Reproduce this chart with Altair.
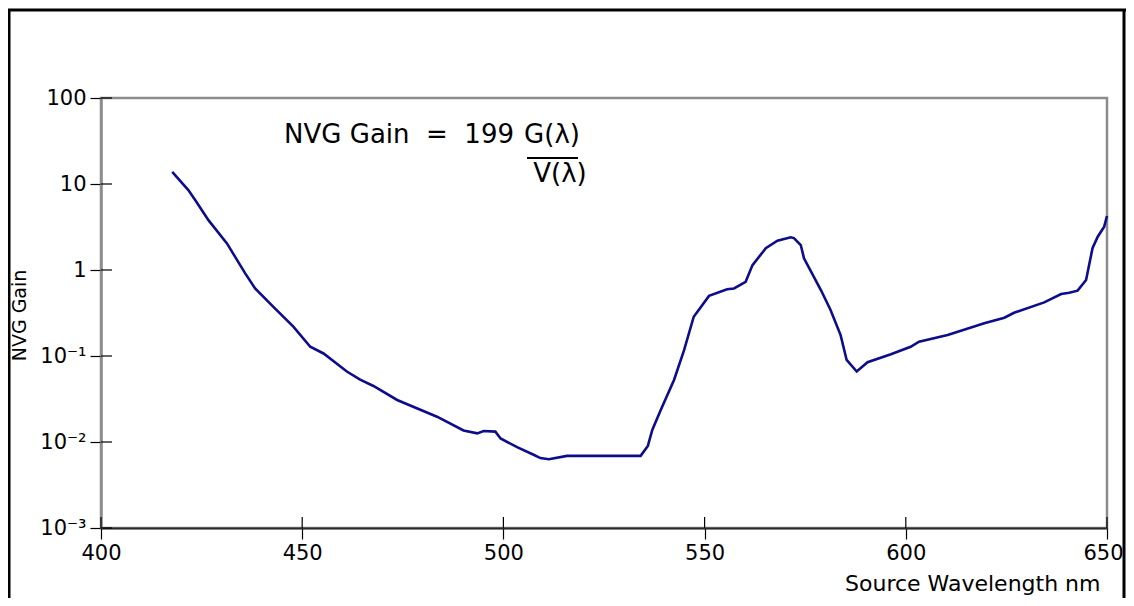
import altair as alt
import pandas as pd

# Curve
wavelength = [417.7, 421.7, 423.4, 426.7, 431.3, 433.3, 435.8, 438.3, 442.9, 447.8,
              452.0, 455.3, 461.1, 464.4, 467.7, 473.6, 483.5, 490.1, 493.5, 495.1,
              498.0, 499.3, 503.4, 507.5, 509.2, 511.3, 515.8, 534.1, 535.9, 537.0,
              539.1, 542.4, 544.9, 547.3, 551.1, 555.6, 557.3, 560.2, 561.9, 565.2,
              568.1, 571.4, 572.2, 573.9, 574.7, 578.9, 581.3, 583.8, 585.3, 587.8,
              590.5, 596.3, 601.2, 603.3, 610.4, 619.5, 624.5, 626.9, 634.4, 638.6,
              640.6, 642.7, 644.8, 646.4, 647.7, 649.3, 650.0]
gain = [13.8, 8.5, 6.5, 3.8, 2.04, 1.43, 0.92, 0.61, 0.37, 0.22,
        0.128, 0.107, 0.066, 0.053, 0.0448, 0.0308, 0.0197, 0.0136, 0.0126, 0.0134,
        0.0132, 0.011, 0.0087, 0.0071, 0.0065, 0.0063, 0.0069, 0.0069, 0.009, 0.0138,
        0.0236, 0.0526, 0.117, 0.286, 0.50, 0.596, 0.61, 0.73, 1.14, 1.79,
        2.19, 2.40, 2.35, 1.95, 1.37, 0.585, 0.343, 0.175, 0.09, 0.066,
        0.0846, 0.105, 0.128, 0.147, 0.175, 0.24, 0.279, 0.318, 0.42, 0.526,
        0.545, 0.575, 0.766, 1.79, 2.44, 3.19, 4.25]

x_ticks = [400, 450, 500, 550, 600, 650]
y_ticks = [0.001, 0.01, 0.1, 1, 10, 100]
y_tick_labels = ["10⁻³", "10⁻²", "10⁻¹", "1", "10", "100"]

x_title = "Source Wavelength nm"
y_title = "NVG Gain"
formula_left = "NVG Gain\u00a0\u00a0=\u00a0\u00a0199"
formula_num = "G(λ)"
formula_den = "V(λ)"

FONT = "DejaVu Sans"
W, H = 1006, 430

curve = pd.DataFrame({"nm": wavelength, "gain": gain})
xt = pd.DataFrame({"nm": x_ticks})
yt = pd.DataFrame({"gain": y_ticks})
one = pd.DataFrame({"k": [0]})

xscale = alt.Scale(domain=[400, 650], nice=False, zero=False)
yscale = alt.Scale(type="log", domain=[0.001, 100], nice=False)

label_expr = "[" + ",".join("'" + s + "'" for s in y_tick_labels) + "][round(log(datum.value)/LN10)+3]"

xaxis = alt.Axis(
    values=x_ticks, title=x_title, grid=False, tickSize=11, tickColor="#000", tickWidth=1.2,
    domainColor="#2a2a2a", domainWidth=2.2, labelFont=FONT, labelFontSize=21, labelColor="#000",
    labelPadding=3, labelFlush=False, labelOverlap=False,
    labelOffset={"condition": {"test": "datum.value == 650", "value": -4}, "value": 0},
    titleFont=FONT, titleFontSize=22, titleFontWeight="normal", titleColor="#000",
    titleAlign="right", titleAnchor="end", titleX=999, titleY=62, titleBaseline="alphabetic")
yaxis = alt.Axis(
    values=y_ticks, labelExpr=label_expr, title=y_title, grid=False, tickSize=11,
    tickColor="#000", tickWidth=1.2, domainColor="#8c8c8c", domainWidth=2.5,
    labelFont=FONT, labelFontSize=21, labelColor="#000", labelPadding=4,
    labelFlush=False, labelOverlap=False,
    titleFont=FONT, titleFontSize=19, titleFontWeight="normal", titleColor="#000",
    titleX=-82, titleY=217, titleAngle=-90, titleAlign="center", titleBaseline="middle")

line = alt.Chart(curve).mark_line(color="#0c0c8c", strokeWidth=2.6).encode(
    x=alt.X("nm:Q", scale=xscale, axis=xaxis),
    y=alt.Y("gain:Q", scale=yscale, axis=yaxis),
)

xin = alt.Chart(xt).mark_rule(color="#000", strokeWidth=1.2).encode(
    x=alt.X("nm:Q", scale=xscale, axis=xaxis), y=alt.value(H - 11), y2=alt.value(H))
yin = alt.Chart(yt).mark_rule(color="#000", strokeWidth=1.2).encode(
    y=alt.Y("gain:Q", scale=yscale, axis=yaxis), x=alt.value(0), x2=alt.value(11))

frame_left = alt.Chart(one).mark_rule(color="#000", strokeWidth=3).encode(
    x=alt.value(-92), y=alt.value(-88), y2=alt.value(530))
frame_top = alt.Chart(one).mark_rule(color="#000", strokeWidth=3).encode(
    x=alt.value(-93), x2=alt.value(1025), y=alt.value(-88))
frame_right = alt.Chart(one).mark_rule(color="#000", strokeWidth=3).encode(
    x=alt.value(1023), y=alt.value(-88), y2=alt.value(530))

t1 = alt.Chart(one).mark_text(font=FONT, fontSize=26, align="right", baseline="alphabetic", color="#000").encode(
    x=alt.value(413), y=alt.value(45), text=alt.value(formula_left))
t2 = alt.Chart(one).mark_text(font=FONT, fontSize=26, align="center", baseline="alphabetic", color="#000").encode(
    x=alt.value(451), y=alt.value(45), text=alt.value(formula_num))
t3 = alt.Chart(one).mark_text(font=FONT, fontSize=26, align="center", baseline="alphabetic", color="#000").encode(
    x=alt.value(459), y=alt.value(84), text=alt.value(formula_den))
uline = alt.Chart(one).mark_rule(color="#000", strokeWidth=1.8).encode(
    x=alt.value(426), x2=alt.value(477), y=alt.value(60))

chart = alt.layer(line, xin, yin, frame_left, frame_top, frame_right, t1, t2, t3, uline).properties(
    width=W, height=H,
    autosize=alt.AutoSizeParams(type="none"),
    padding={"left": 93, "top": 90, "right": 19, "bottom": 70},
    background="white",
).configure_view(stroke="#8c8c8c", strokeWidth=2.5)

chart.save("out.html", embed_options={"renderer": "svg", "actions": False})
